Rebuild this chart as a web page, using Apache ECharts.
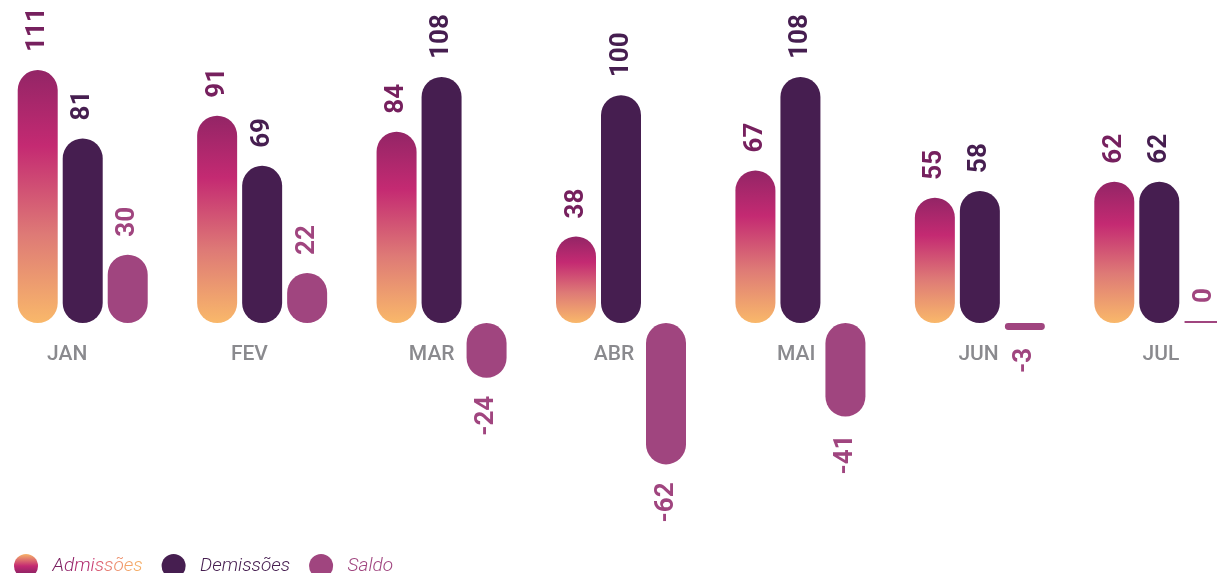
<!DOCTYPE html>
<html>
<head>
<meta charset="utf-8">
<script src="https://cdn.jsdelivr.net/npm/echarts@6/dist/echarts.min.js"></script>
<style>
html, body { margin: 0; padding: 0; background: #fff; }
#main { width: 1217px; height: 573px; }
</style>
</head>
<body>
<div id="main"></div>
<script>
// data
const months = ['JAN', 'FEV', 'MAR', 'ABR', 'MAI', 'JUN', 'JUL'];
const admissoes = [111, 91, 84, 38, 67, 55, 62];
const demissoes = [81, 69, 108, 100, 108, 58, 62];
const saldo = [30, 22, -24, -62, -41, -3, 0];

function buildChart() {
    var myChart = echarts.init(document.getElementById('main'));

    var barGrad = new echarts.graphic.LinearGradient(0, 0, 0, 1, [
        { offset: 0, color: '#932566' },
        { offset: 0.3, color: '#C42A72' },
        { offset: 0.65, color: '#DE7A76' },
        { offset: 1, color: '#F9B86A' }
    ]);
    var iconGrad = new echarts.graphic.LinearGradient(0, 0, 0, 1, [
        { offset: 0, color: '#F7B469' },
        { offset: 0.5, color: '#C42A72' },
        { offset: 1, color: '#6E1F5C' }
    ]);

    // fake a left-to-right colour fade on the "Admissões" legend text
    var fade = ['#7A2060', '#93246A', '#B02C6E', '#C93A72', '#DA5E74', '#E77E72', '#EE926E', '#F3A46A', '#F5AE69'];
    var rich = {};
    fade.forEach(function (c, i) {
        rich['c' + i] = { color: c, fontFamily: 'Roboto', fontStyle: 'italic', fontWeight: 300, fontSize: 19 };
    });

    function valueLabel(color) {
        return {
            show: true,
            position: 'top',
            rotate: 90,
            align: 'left',
            verticalAlign: 'middle',
            distance: 18,
            color: color,
            fontFamily: 'Roboto',
            fontWeight: 'bold',
            fontSize: 26
        };
    }

    var option = {
        animation: false,
        grid: [
            { left: -7, right: -32, top: 4, bottom: 22, outerBoundsMode: 'none' },
            { left: -24, right: -35, top: 4, bottom: 250, outerBoundsMode: 'none' }
        ],
        legend: {
            left: 9,
            top: 549,
            icon: 'circle',
            itemWidth: 43,
            itemHeight: 24,
            symbolKeepAspect: true,
            itemGap: 19,
            textStyle: {
                fontFamily: 'Roboto',
                fontStyle: 'italic',
                fontWeight: 300,
                fontSize: 19,
                rich: rich
            },
            formatter: function (name) {
                if (name !== 'Admissões') return name;
                return name.split('').map(function (ch, i) {
                    return '{c' + i + '|' + ch + '}';
                }).join('');
            },
            data: [
                { name: 'Admissões', itemStyle: { color: iconGrad } },
                { name: 'Demissões', textStyle: { color: '#461E50' } },
                { name: 'Saldo', textStyle: { color: '#A0457F' } }
            ]
        },
        xAxis: [
            { type: 'category', gridIndex: 0, data: months, show: false },
            {
                type: 'category',
                gridIndex: 1,
                data: months,
                axisLine: { show: false },
                axisTick: { show: false },
                axisLabel: {
                    color: '#8A8A8E',
                    fontFamily: 'Roboto',
                    fontWeight: 500,
                    fontSize: 21,
                    margin: 21
                }
            }
        ],
        yAxis: [
            { type: 'value', gridIndex: 0, min: -100, max: 140, show: false },
            { type: 'value', gridIndex: 1, min: 0, max: 1, show: false }
        ],
        series: [
            {
                name: 'Admissões',
                type: 'bar',
                barWidth: 40,
                barGap: '12.5%',
                itemStyle: { color: barGrad, borderRadius: 20 },
                label: valueLabel('#76205E'),
                data: admissoes
            },
            {
                name: 'Demissões',
                type: 'bar',
                barWidth: 40,
                barGap: '12.5%',
                itemStyle: { color: '#461E50', borderRadius: 20 },
                label: valueLabel('#461E50'),
                data: demissoes
            },
            {
                name: 'Saldo',
                type: 'bar',
                barWidth: 40,
                barGap: '12.5%',
                barMinHeight: 2,
                itemStyle: { color: '#A0457F', borderRadius: 20 },
                label: valueLabel('#A0457F'),
                data: saldo.map(function (v) {
                    if (v < 0) {
                        return { value: v, label: { position: 'bottom', align: 'right' } };
                    }
                    return v;
                })
            }
        ]
    };
    myChart.setOption(option);
}
buildChart();
</script>
</body>
</html>
